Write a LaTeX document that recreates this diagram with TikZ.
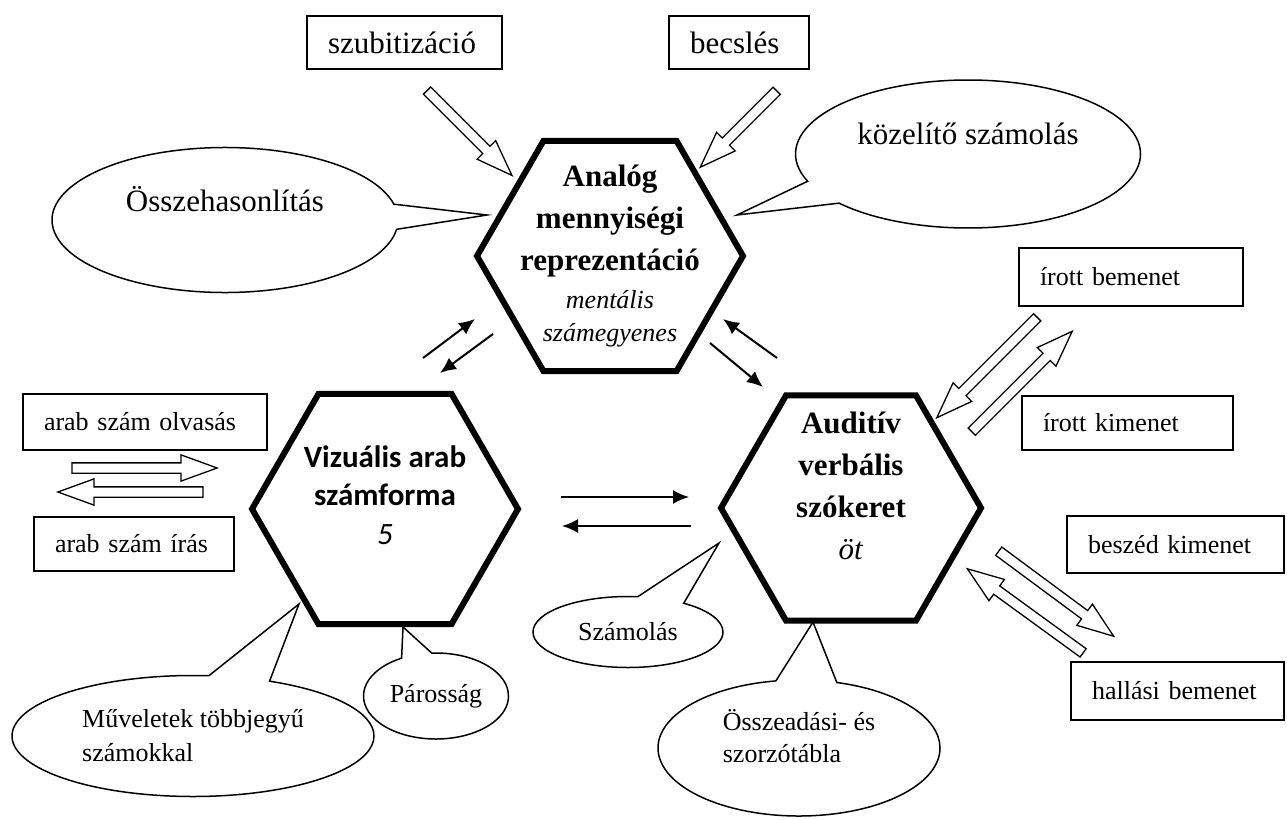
\documentclass[tikz,border=0pt]{standalone}
\usepackage{fontspec}
\setmainfont{Liberation Serif}
\newfontfamily\calibri{Carlito}
\usetikzlibrary{shapes.geometric, shapes.callouts, shapes.arrows, arrows.meta}

\newcommand{\grande}{\fontsize{31}{42}\selectfont}
\newcommand{\chico}{\fontsize{26}{34}\selectfont}

\tikzstyle{caja} = [rectangle, draw=black, line width=1.5pt, inner xsep=21pt, inner ysep=0pt, align=left, font=\chico]
\tikzstyle{hexa} = [regular polygon, regular polygon sides=6, draw=black, line width=6pt, inner sep=-50pt, align=center, font=\grande]
\tikzstyle{globo} = [ellipse callout, draw=black, line width=1.5pt, inner sep=0pt, callout pointer arc=20]
\tikzstyle{hueca} = [single arrow, draw=black, line width=1.3pt, minimum width=25pt, inner xsep=0pt, inner ysep=4.5pt, single arrow head extend=8pt, single arrow tip angle=40, text height=0pt, text depth=0pt]
\tikzstyle{flecha} = [line width=2pt, -{Latex[length=16pt,width=14pt]}]

\begin{document}
\begin{tikzpicture}[x=1pt, y=-1pt]
    \useasboundingbox (0,0) rectangle (1287,819);

    % hexagonos
    \node (analog) [hexa, minimum size=266pt] at (610,256) {\textbf{Analóg}\\\textbf{mennyiségi}\\\textbf{reprezentáció}\\[-4pt]{\chico\itshape mentális}\\[-9pt]{\chico\itshape számegyenes}};
    \node (vizualis) [hexa, minimum size=266pt, font=\grande\calibri, text depth=28pt] at (385,509) {\textbf{Vizuális arab}\\[-3.5pt]\textbf{számforma}\\[-3.5pt]\textit{5}};
    \node (auditiv) [hexa, minimum size=260pt, text depth=44pt] at (851,508) {\textbf{Auditív}\\\textbf{verbális}\\\textbf{szókeret}\\\textit{öt}};

    % cajas
    \node (szub) [caja, font=\grande, text width=153pt, minimum height=53pt] at (404.5,42.5) {szubitizáció};
    \node (becsles) [caja, font=\grande, text width=98pt, minimum height=53pt] at (739,42.5) {becslés};
    \node (irbe) [caja, text width=182pt, minimum height=58pt] at (1131,277) {írott bemenet};
    \node (irki) [caja, text width=169pt, minimum height=54pt] at (1127.5,423) {írott kimenet};
    \node (beszki) [caja, text width=175pt, minimum height=57pt] at (1175.5,544.5) {beszéd kimenet};
    \node (hallbe) [caja, text width=171pt, minimum height=58pt] at (1177.5,691) {hallási bemenet};
    \node (olvas) [caja, text width=202pt, minimum height=56pt] at (145,422) {arab szám olvasás};
    \node (iras) [caja, text width=158pt, minimum height=54pt] at (134,544) {arab szám írás};

    % globos
    \coordinate (pOssze) at (487,215);
    \coordinate (pKozel) at (737,215);
    \coordinate (pMuv) at (299,604);
    \coordinate (pParos) at (403,627);
    \coordinate (pSzam) at (719,543);
    \coordinate (pTabla) at (813,622);
    \node (osszehas) [globo, font=\grande, minimum width=346pt, minimum height=145pt, text depth=42pt, callout absolute pointer=(pOssze)] at (225,220) {Összehasonlítás};
    \node (kozelito) [globo, font=\grande, minimum width=345pt, minimum height=148pt, text depth=41pt, callout absolute pointer=(pKozel)] at (968,154) {közelítő számolás};
    \node (muvelet) [globo, font=\chico, align=left, minimum width=362pt, minimum height=121pt, callout absolute pointer=(pMuv)] at (193,736) {Műveletek többjegyű\\számokkal};
    \node (paros) [globo, font=\chico, minimum width=145pt, minimum height=86pt, callout pointer arc=25, callout absolute pointer=(pParos)] at (436,696) {Párosság};
    \node (szamolas) [globo, font=\chico, minimum width=190pt, minimum height=71pt, callout pointer arc=30, callout absolute pointer=(pSzam)] at (628,632) {Számolás};
    \node (tabla) [globo, font=\chico, align=left, minimum width=282pt, minimum height=136pt, text depth=24pt, callout pointer arc=25, callout absolute pointer=(pTabla)] at (799,748) {Összeadási- és\\[-2pt]szorzótábla};

    % flechas huecas
    \node (flSzub) [hueca, minimum height=120pt, rotate=-45] at (464.5,128) {};
    \node (flBecs) [hueca, minimum height=108pt, rotate=-135] at (743.5,124) {};
    \node (flIrBe) [hueca, minimum height=142pt, rotate=-135] at (992,362.5) {};
    \node (flIrKi) [hueca, minimum height=142pt, rotate=45] at (1017,386.5) {};
    \node (flBesz) [hueca, minimum height=143pt, rotate=-36.5] at (1050.5,589.5) {};
    \node (flHall) [hueca, minimum height=143pt, rotate=144] at (1031,615) {};
    \node (flOlv) [hueca, minimum height=145pt] at (137.5,468) {};
    \node (flIras) [hueca, minimum height=145pt, rotate=180] at (137.5,492) {};

    % flechas entre hexagonos
    \coordinate (va1) at (423,358);
    \coordinate (va2) at (475,319);
    \coordinate (av1) at (493,334);
    \coordinate (av2) at (440,373);
    \coordinate (ua1) at (777,358);
    \coordinate (ua2) at (723,319);
    \coordinate (au1) at (710,343);
    \coordinate (au2) at (763,387);
    \coordinate (vu1) at (561,497);
    \coordinate (vu2) at (689,497);
    \coordinate (uv1) at (691,526);
    \coordinate (uv2) at (562,526);

    \draw [flecha] (va1) -- (va2);
    \draw [flecha] (av1) -- (av2);
    \draw [flecha] (ua1) -- (ua2);
    \draw [flecha] (au1) -- (au2);
    \draw [flecha] (vu1) -- (vu2);
    \draw [flecha] (uv1) -- (uv2);
\end{tikzpicture}
\end{document}
